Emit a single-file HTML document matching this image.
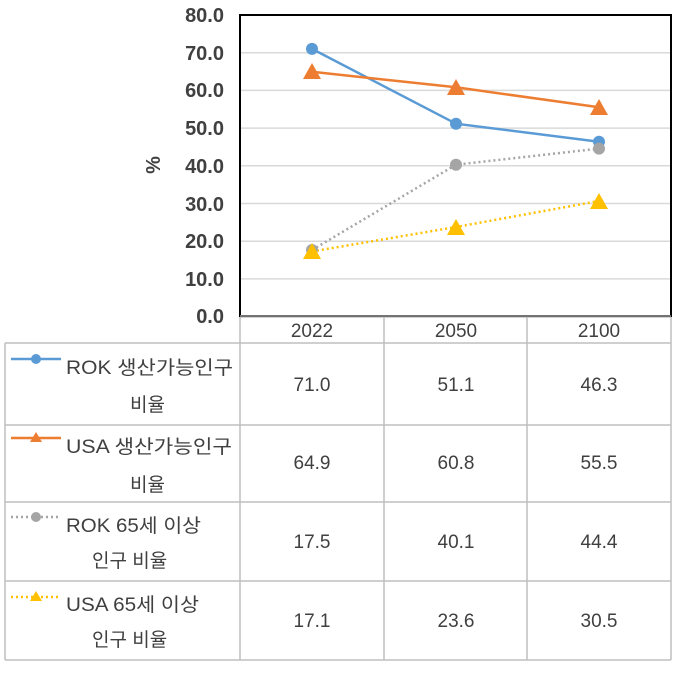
<!DOCTYPE html>
<html><head><meta charset="utf-8"><style>
body{margin:0;background:#fff;}
svg text{font-family:"Liberation Sans","Noto Sans CJK KR",sans-serif;}
</style></head><body>
<svg width="677" height="670" xmlns="http://www.w3.org/2000/svg">
<g stroke="#d9d9d9" stroke-width="1.5">
<line x1="240" x2="671" y1="52.7" y2="52.7"/><line x1="240" x2="671" y1="90.4" y2="90.4"/>
<line x1="240" x2="671" y1="128.1" y2="128.1"/><line x1="240" x2="671" y1="165.8" y2="165.8"/>
<line x1="240" x2="671" y1="203.5" y2="203.5"/><line x1="240" x2="671" y1="241.2" y2="241.2"/>
<line x1="240" x2="671" y1="278.9" y2="278.9"/>
</g>
<g font-size="20" font-weight="bold" fill="#404040" text-anchor="end">
<text x="224" y="22">80.0</text><text x="224" y="60">70.0</text><text x="224" y="97">60.0</text>
<text x="224" y="135">50.0</text><text x="224" y="173">40.0</text><text x="224" y="211">30.0</text>
<text x="224" y="248">20.0</text><text x="224" y="286">10.0</text><text x="224" y="323">0.0</text>
</g>
<text x="160" y="165" font-size="20" font-weight="bold" fill="#404040" transform="rotate(-90 160 165)" text-anchor="middle">%</text>
<g stroke="#bfbfbf" stroke-width="1.5" fill="none">
<line x1="240" x2="671" y1="317" y2="317"/>
<line x1="5" x2="671" y1="343" y2="343"/>
<line x1="5" x2="671" y1="425" y2="425"/>
<line x1="5" x2="671" y1="502" y2="502"/>
<line x1="5" x2="671" y1="581" y2="581"/>
<line x1="5" x2="671" y1="660" y2="660"/>
<line x1="5" x2="5" y1="343" y2="660"/>
<line x1="240" x2="240" y1="316" y2="660"/>
<line x1="384" x2="384" y1="316" y2="660"/>
<line x1="527" x2="527" y1="316" y2="660"/>
<line x1="671" x2="671" y1="316" y2="660"/>
</g>
<rect x="240" y="15" width="431" height="301" fill="none" stroke="#000" stroke-width="2"/>
<line x1="240" x2="671" y1="316" y2="316" stroke="#999" stroke-width="1.5"/>
<polyline points="312,48.9 456,123.7 599,141.8" fill="none" stroke="#5b9bd5" stroke-width="2.5"/>
<polyline points="312,71.8 456,87.3 599,107.3" fill="none" stroke="#ed7d31" stroke-width="2.5"/>
<polyline points="312,250 456,164.7 599,148.6" fill="none" stroke="#a5a5a5" stroke-width="2.5" stroke-dasharray="2,3"/>
<polyline points="312,251.5 456,227 599,201" fill="none" stroke="#ffc000" stroke-width="2.5" stroke-dasharray="2,3"/>
<g fill="#5b9bd5"><circle cx="312" cy="48.9" r="6"/><circle cx="456" cy="123.7" r="6"/><circle cx="599" cy="141.8" r="6"/></g>
<g fill="#a5a5a5"><circle cx="312" cy="250" r="6"/><circle cx="456" cy="164.7" r="6"/><circle cx="599" cy="148.6" r="6"/></g>
<g fill="#ed7d31"><polygon points="312,63 303,79 321,79"/><polygon points="456,79 447,95 465,95"/><polygon points="599,99 590,115 608,115"/></g>
<g fill="#ffc000"><polygon points="312,243 303,259 321,259"/><polygon points="456,219 447,235 465,235"/><polygon points="599,193 590,209 608,209"/></g>
<line x1="11" x2="61" y1="359" y2="359" stroke="#5b9bd5" stroke-width="2.5"/><circle cx="36" cy="359" r="5" fill="#5b9bd5"/>
<line x1="11" x2="61" y1="438" y2="438" stroke="#ed7d31" stroke-width="2.5"/><polygon points="36,432 30,442 42,442" fill="#ed7d31"/>
<line x1="11" x2="61" y1="517" y2="517" stroke="#a5a5a5" stroke-width="2.5" stroke-dasharray="2,3"/><circle cx="36" cy="517" r="5" fill="#a5a5a5"/>
<line x1="11" x2="61" y1="597" y2="597" stroke="#ffc000" stroke-width="2.5" stroke-dasharray="2,3"/><polygon points="36,591 30,601 42,601" fill="#ffc000"/>
<g font-size="19" fill="#404040">
<text x="66" y="374" textLength="167" lengthAdjust="spacingAndGlyphs">ROK 생산가능인구</text><text x="130" y="411">비율</text>
<text x="66" y="453" textLength="166" lengthAdjust="spacingAndGlyphs">USA 생산가능인구</text><text x="130" y="491">비율</text>
<text x="66" y="532" textLength="135" lengthAdjust="spacingAndGlyphs">ROK 65세 이상</text><text x="92" y="567">인구 비율</text>
<text x="66" y="611" textLength="133" lengthAdjust="spacingAndGlyphs">USA 65세 이상</text><text x="92" y="646">인구 비율</text>
</g>
<g font-size="19" fill="#404040" text-anchor="middle">
<text x="312" y="337">2022</text><text x="456" y="337">2050</text><text x="599" y="337">2100</text>
<text x="312" y="391">71.0</text><text x="456" y="391">51.1</text><text x="599" y="391">46.3</text>
<text x="312" y="469">64.9</text><text x="456" y="469">60.8</text><text x="599" y="469">55.5</text>
<text x="312" y="548">17.5</text><text x="456" y="548">40.1</text><text x="599" y="548">44.4</text>
<text x="312" y="627">17.1</text><text x="456" y="627">23.6</text><text x="599" y="627">30.5</text>
</g>
</svg>
</body></html>
